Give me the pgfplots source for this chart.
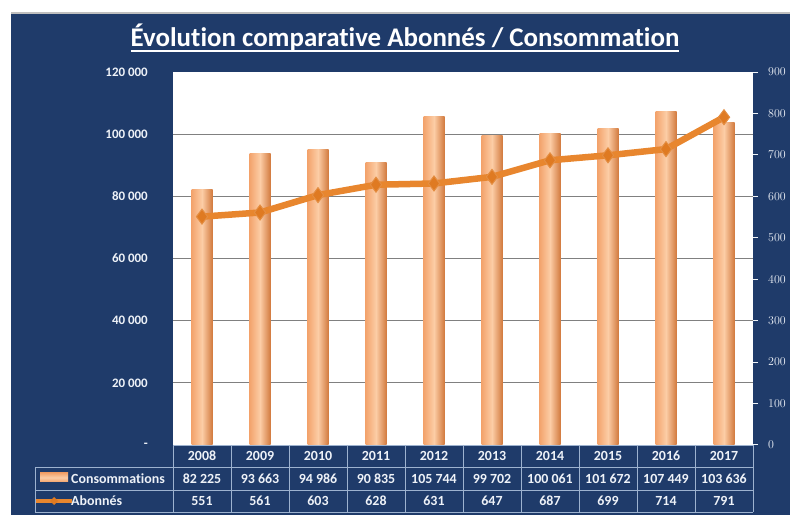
\documentclass[border=0pt]{standalone}
\usepackage{pgfplots}
\pgfplotsset{compat=1.18}
\usepackage{fontspec}
\setmainfont{Carlito}[Ligatures=NoCommon]
\definecolor{bgblue}{HTML}{1F3B6A}
\definecolor{gridc}{HTML}{808080}
\definecolor{tabline}{HTML}{9DB2CF}
\definecolor{barL}{HTML}{F3A36C}
\definecolor{barM}{HTML}{FCCDA6}
\definecolor{barR}{HTML}{D27A3E}
\definecolor{lineo}{HTML}{E8862E}
\definecolor{marko}{HTML}{DF7A22}
\definecolor{txt}{HTML}{EEF2F8}
\pgfplotsset{onebar/.style={draw=none, left color=barL, right color=barR, middle color=barM, bar shift=0pt, bar width=21bp}}
\begin{document}
\begin{tikzpicture}
\path[use as bounding box] (0bp,0bp) rectangle (790bp,515bp);
\fill[white] (0bp,0bp) rectangle (790bp,515bp);
\fill[bgblue] (11bp,0bp) rectangle (790bp,502bp);
\draw[gray!50, line width=1.5bp] (11bp,502bp) -- (790bp,502bp);

\node[anchor=base, text=white, font=\bfseries\fontsize{27}{32}\selectfont, inner sep=0] (title) at (405bp,468bp) {Évolution comparative Abonnés / Consommation};
\draw[white, line width=1.8bp] ([yshift=-4bp]title.base west) -- ([yshift=-4bp]title.base east);

\begin{axis}[
  at={(173bp,70bp)}, anchor=south west,
  scale only axis, width=580bp, height=373bp,
  xmin=-0.5, xmax=9.5, ymin=0, ymax=120000,
  axis background/.style={fill=white},
  axis line style={draw=none},
  major tick length=0pt,
  xtick={0,...,9},
  xticklabels={2008,2009,2010,2011,2012,2013,2014,2015,2016,2017},
  xticklabel style={anchor=center, yshift=-11bp, inner sep=0pt, text=txt, font=\bfseries\fontsize{14}{16}\selectfont},
  ytick={20000,40000,60000,80000,100000},
  yticklabels={20 000,40 000,60 000,80 000,100 000},
  extra y ticks={0,120000},
  extra y tick labels={-\hspace{6bp},120 000},
  extra y tick style={grid=none},
  ymajorgrids, grid style={gridc, line width=1bp},
  yticklabel style={anchor=east, inner sep=0pt, xshift=-25bp, text=txt, font=\bfseries\fontsize{13}{15}\selectfont},
  scaled y ticks=false,
  ybar,
]
\addplot[onebar] coordinates {(0,82225)};
\addplot[onebar] coordinates {(1,93663)};
\addplot[onebar] coordinates {(2,94986)};
\addplot[onebar] coordinates {(3,90835)};
\addplot[onebar] coordinates {(4,105744)};
\addplot[onebar] coordinates {(5,99702)};
\addplot[onebar] coordinates {(6,100061)};
\addplot[onebar] coordinates {(7,101672)};
\addplot[onebar] coordinates {(8,107449)};
\addplot[onebar] coordinates {(9,103636)};
\end{axis}

\begin{axis}[
  at={(173bp,70bp)}, anchor=south west,
  scale only axis, width=580bp, height=373bp,
  xmin=-0.5, xmax=9.5, ymin=0, ymax=900,
  axis y line*=right, axis x line=none,
  axis line style={draw=none},
  ytick={0,100,...,900},
  tick style={txt!80, line width=1bp}, major tick length=5bp, tick align=outside,
  yticklabel style={anchor=west, inner sep=0pt, xshift=10bp, text=txt, font=\bfseries\fontsize{13}{15}\selectfont},
]
\addplot[lineo, line width=6.5bp, mark=diamond*, mark size=7.5bp, mark options={fill=marko, draw=marko!85!white, line width=1bp}] coordinates {
(0,551) (1,561) (2,603) (3,628) (4,631) (5,647) (6,687) (7,699) (8,714) (9,791)};
\end{axis}

% data table grid
\begin{scope}[tabline, line width=0.9bp]
\draw (173bp,70bp) -- (753bp,70bp);
\draw (35bp,48bp) -- (753bp,48bp);
\draw (35bp,25bp) -- (753bp,25bp);
\draw (35bp,3bp) -- (753bp,3bp);
\draw (35bp,48bp) -- (35bp,3bp);
\foreach \i in {0,...,10} { \draw (173bp+58bp*\i,70bp) -- (173bp+58bp*\i,3bp); }
\end{scope}

\foreach \v [count=\i from 0] in {82 225,93 663,94 986,90 835,105 744,99 702,100 061,101 672,107 449,103 636} {
  \node[text=txt, font=\bfseries\fontsize{14}{16}\selectfont, inner sep=0] at (202bp+58bp*\i,36.5bp) {\v};
}
\foreach \v [count=\i from 0] in {551,561,603,628,631,647,687,699,714,791} {
  \node[text=txt, font=\bfseries\fontsize{14}{16}\selectfont, inner sep=0] at (202bp+58bp*\i,14bp) {\v};
}
% legend keys
\shade[top color=barL, bottom color=barL, middle color=barM] (40bp,33bp) rectangle (68bp,42bp);
\draw[lineo, line width=4bp] (36bp,14bp) -- (72bp,14bp);
\fill[marko] (54bp,18bp) -- (58bp,14bp) -- (54bp,10bp) -- (50bp,14bp) -- cycle;
\node[anchor=west, text=txt, font=\bfseries\fontsize{14}{16}\selectfont, inner sep=0] at (71bp,36.5bp) {Consommations};
\node[anchor=west, text=txt, font=\bfseries\fontsize{14}{16}\selectfont, inner sep=0] at (71bp,14bp) {Abonnés};
\end{tikzpicture}
\end{document}
